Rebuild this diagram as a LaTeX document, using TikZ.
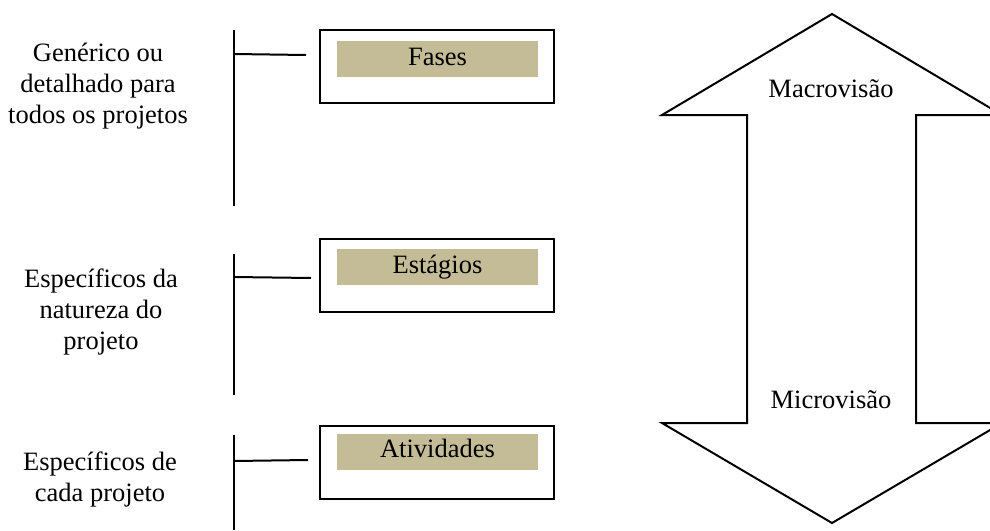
\documentclass[tikz,border=0pt]{standalone}
\usepackage{fontspec}
\setmainfont{Liberation Serif}
\definecolor{beige}{HTML}{C4BC97}
\begin{document}
\begin{tikzpicture}[x=1pt,y=-1pt,
  lbl/.style={align=center,font=\fontsize{26.5}{31}\selectfont,inner sep=0pt},
  txt/.style={font=\fontsize{26.5}{31}\selectfont,inner sep=0pt,anchor=base},
  outerbox/.style={draw,line width=2pt,minimum width=234pt,minimum height=73pt,inner sep=0pt},
  fillbox/.style={fill=beige,minimum width=201pt,minimum height=36pt,inner sep=0pt},
  ln/.style={line width=2pt},
  arr/.style={draw,line width=2pt,line join=miter}]
\useasboundingbox (0,0) rectangle (990,530);
\clip (0,0) rectangle (990,530);
% arrow
\draw[arr] (832,14) -- (1002,115) -- (916,115) -- (916,423) -- (1002,423)
  -- (832,523) -- (662,423) -- (747,423) -- (747,115) -- (662,115) -- cycle;
\node[txt] (macro) at (831,97) {Macrovisão};
\node[txt] (micro) at (831,408) {Microvisão};
% left labels
\node[lbl] (l1) at (98,86) {Genérico ou\\detalhado para\\todos os projetos};
\node[lbl] (l2) at (101,312) {Específicos da\\natureza do\\projeto};
\node[lbl] (l3) at (100,479) {Específicos de\\cada projeto};
% boxes
\node[outerbox] (b1) at (436.5,66) {};
\node[fillbox] (f1) at (437.5,59) {};
\node[txt] (t1) at (437.5,65) {Fases};
\node[outerbox] (b2) at (436.5,275) {};
\node[fillbox] (f2) at (437.5,267) {};
\node[txt] (t2) at (437.5,273) {Estágios};
\node[outerbox] (b3) at (436.5,462) {};
\node[fillbox] (f3) at (437.5,452) {};
\node[txt] (t3) at (437.5,457) {Atividades};
% brackets
\coordinate (v1a) at (234,30); \coordinate (v1b) at (234,206);
\coordinate (h1a) at (234,54); \coordinate (h1b) at (306,55);
\coordinate (v2a) at (234,254); \coordinate (v2b) at (234,395);
\coordinate (h2a) at (234,277); \coordinate (h2b) at (311,278);
\coordinate (v3a) at (234,435); \coordinate (v3b) at (234,530);
\coordinate (h3a) at (234,461); \coordinate (h3b) at (308,460);
\draw[ln] (v1a) -- (v1b); \draw[ln] (h1a) -- (h1b);
\draw[ln] (v2a) -- (v2b); \draw[ln] (h2a) -- (h2b);
\draw[ln] (v3a) -- (v3b); \draw[ln] (h3a) -- (h3b);
\end{tikzpicture}
\end{document}
